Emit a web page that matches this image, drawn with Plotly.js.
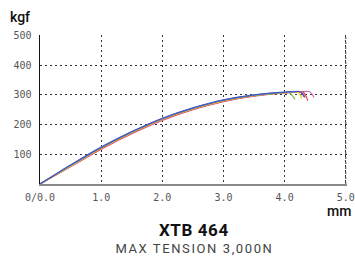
<!DOCTYPE html>
<html><head><meta charset="utf-8">
<script src="https://cdn.plot.ly/plotly-3.0.1.min.js"></script>
<style>html,body{margin:0;padding:0;background:#fff}#c{width:355px;height:264px}</style>
</head><body><div id="c"></div>
<script>
// Elongation (mm) vs load (kgf), one array pair per test specimen
const blueX   = [0, 0.5, 1.0, 1.5, 2.0, 2.5, 3.0, 3.5, 4.0, 4.25, 4.30, 4.33];
const blueY   = [0, 64, 124, 176, 221, 256, 283, 300, 309, 311, 303, 292];
const purpleX = [0, 0.5, 1.0, 1.5, 2.0, 2.5, 3.0, 3.5, 4.0, 4.24, 4.29, 4.31];
const purpleY = [0, 63, 123, 175, 220, 255, 282, 299, 308, 310, 302, 293];
const greenX  = [0, 0.5, 1.0, 1.5, 2.0, 2.5, 3.0, 3.5, 4.0, 4.07, 4.13, 4.17];
const greenY  = [0, 62, 122, 174, 219, 254, 281, 298, 307, 308, 296, 284];
const yellowX = [0, 0.5, 1.0, 1.5, 2.0, 2.5, 3.0, 3.5, 4.0, 4.22, 4.26, 4.28];
const yellowY = [0, 61, 121, 173, 218, 253, 280, 298, 307, 309, 298, 288];
const orangeX = [0, 0.5, 1.0, 1.5, 2.0, 2.5, 3.0, 3.5, 4.0, 4.26, 4.31, 4.34];
const orangeY = [0, 60, 120, 172, 217, 252, 279, 297, 307, 310, 300, 290];
const redX    = [0, 0.5, 1.0, 1.5, 2.0, 2.5, 3.0, 3.5, 4.0, 4.30, 4.35, 4.38];
const redY    = [0, 59, 118, 170, 215, 251, 278, 296, 306, 310, 295, 280];
const pinkX   = [0, 0.5, 1.0, 1.5, 2.0, 2.5, 3.0, 3.5, 4.0, 4.40, 4.45, 4.48];
const pinkY   = [0, 58, 117, 169, 214, 250, 277, 295, 306, 311, 302, 291];

const seriesColors = ['#3d5fc4', '#8a5cc0', '#6cc04a', '#f2d024', '#f59a2c', '#e8465a', '#d46ab8'];
const seriesX = [blueX, purpleX, greenX, yellowX, orangeX, redX, pinkX];
const seriesY = [blueY, purpleY, greenY, yellowY, orangeY, redY, pinkY];

const xTickVals = [0, 1, 2, 3, 4, 5];
const xTickText = ['0/0.0', '1.0', '2.0', '3.0', '4.0', '5.0'];
const yTickVals = [100, 200, 300, 400, 500];
const yTickText = ['100', '200', '300', '400', '500'];

const traces = seriesX.map((xs, i) => ({
  x: xs, y: seriesY[i], type: 'scatter', mode: 'lines',
  line: {color: seriesColors[i], width: 1.2, shape: 'spline', smoothing: 0.6},
  hoverinfo: 'skip', showlegend: false
})).reverse();

const xMax = xTickVals[xTickVals.length - 1];
const yMax = yTickVals[yTickVals.length - 1];

const mono = {family: 'DejaVu Sans Mono, monospace', size: 10, color: '#555'};
const layout = {
  width: 355, height: 264,
  margin: {l: 40, r: 8, t: 35, b: 80},
  paper_bgcolor: '#fff', plot_bgcolor: '#fff',
  xaxis: {
    range: [0, 5.02], tickvals: xTickVals, ticktext: xTickText,
    showgrid: true, gridcolor: '#333', griddash: '2px,3px', gridwidth: 1,
    zeroline: false, showline: true, linecolor: '#888', linewidth: 1.5,
    ticks: '', tickfont: mono, ticklabelstandoff: 3, fixedrange: true, automargin: false
  },
  yaxis: {
    range: [0, 501], tickvals: yTickVals, ticktext: yTickText,
    showgrid: true, gridcolor: '#333', griddash: '2px,3px', gridwidth: 1,
    zeroline: false, showline: true, linecolor: '#111', linewidth: 1.5,
    ticks: '', tickfont: mono, ticklabelstandoff: 5, fixedrange: true, automargin: false
  },
  shapes: [
    {type: 'line', xref: 'x', yref: 'y', x0: xMax, x1: xMax, y0: 0, y1: yMax, layer: 'below',
     line: {color: '#333', width: 1, dash: '2px,3px'}}
  ],
  annotations: [
    {text: 'kgf', xref: 'paper', yref: 'paper', x: -0.105, y: 1.12, xanchor: 'left', yanchor: 'middle',
     showarrow: false, font: {family: 'Roboto, sans-serif', size: 14, color: '#111', weight: 500}},
    {text: 'mm', xref: 'paper', yref: 'paper', x: 1.02, y: -0.18, xanchor: 'right', yanchor: 'middle',
     showarrow: false, font: {family: 'Roboto, sans-serif', size: 14, color: '#111', weight: 500}},
    {text: 'XTB 464', xref: 'paper', yref: 'paper', x: 0.5, y: -0.31, xanchor: 'center', yanchor: 'middle',
     showarrow: false, font: {family: 'Roboto, sans-serif', size: 17, color: '#111', weight: 700}},
    {text: 'MAX TENSION 3,000N', xref: 'paper', yref: 'paper', x: 0.5, y: -0.43, xanchor: 'center', yanchor: 'middle',
     showarrow: false, font: {family: 'Roboto, sans-serif', size: 13, color: '#444'}}
  ]
};
Plotly.newPlot('c', traces, layout, {displayModeBar: false, staticPlot: true}).then(() => {
  const anns = document.querySelectorAll('.annotation-text');
  anns.forEach(t => {
    if (t.textContent === 'MAX TENSION 3,000N') {
      t.style.letterSpacing = '1.6px';
      t.setAttribute('dx', '0.8');
    }
    if (t.textContent === 'XTB 464') {
      t.style.letterSpacing = '0.6px';
    }
  });
});
</script></body></html>
